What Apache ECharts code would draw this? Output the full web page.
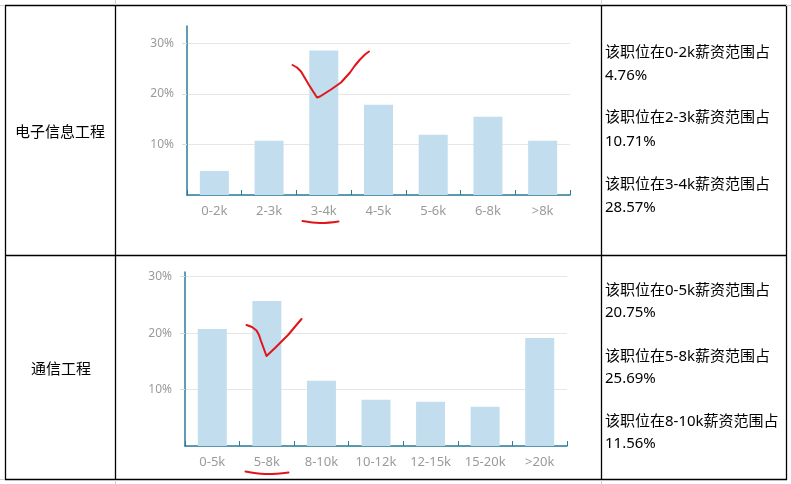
<!DOCTYPE html>
<html>
<head>
<meta charset="utf-8">
<script src="https://cdn.jsdelivr.net/npm/echarts@6/dist/echarts.min.js"></script>
<style>
html,body{margin:0;padding:0;background:#fff;}
#c{width:791px;height:484px;}
</style>
</head>
<body>
<div id="c"></div>
<script>
// ---- data ----
var rowLabels = ['电子信息工程', '通信工程'];
var cats1 = ['0-2k', '2-3k', '3-4k', '4-5k', '5-6k', '6-8k', '>8k'];
var vals1 = [4.76, 10.71, 28.57, 17.86, 11.90, 15.48, 10.71];
var cats2 = ['0-5k', '5-8k', '8-10k', '10-12k', '12-15k', '15-20k', '>20k'];
var vals2 = [20.75, 25.69, 11.56, 8.20, 7.85, 6.95, 19.15];
var notes1 = ['该职位在0-2k薪资范围占', '4.76%', '该职位在2-3k薪资范围占', '10.71%', '该职位在3-4k薪资范围占', '28.57%'];
var notes2 = ['该职位在0-5k薪资范围占', '20.75%', '该职位在5-8k薪资范围占', '25.69%', '该职位在8-10k薪资范围占', '11.56%'];
var yTicks = [0, 10, 20, 30];

var FONT = '"Noto Sans", "Noto Sans CJK SC", sans-serif';
var AXIS = '#2a7c9c';
var BAR = '#c2ddee';

function yAxisCfg(idx, max) {
  return {
    type: 'value', gridIndex: idx, min: 0, max: max, interval: 10,
    axisLine: {show: true, lineStyle: {color: AXIS, width: 1.5}},
    axisTick: {show: true, length: 5, lineStyle: {color: '#dcdcdc'}},
    axisLabel: {
      color: '#9a9a9a', fontSize: 12, fontFamily: FONT, margin: 13,
      showMinLabel: false, showMaxLabel: false,
      formatter: function (v) { return yTicks.indexOf(v) >= 0 ? v + '%' : ''; }
    },
    splitLine: {show: true, showMaxLine: false, lineStyle: {color: '#e6e6e6'}}
  };
}
function xAxisCfg(idx, cats) {
  return {
    type: 'category', gridIndex: idx, data: cats,
    axisLine: {show: true, lineStyle: {color: AXIS, width: 1.5}},
    axisTick: {show: true, inside: true, length: 5, lineStyle: {color: AXIS}},
    axisLabel: {color: '#9a9a9a', fontSize: 13, fontFamily: FONT, margin: 10, interval: 0}
  };
}

var graphics = [];
function line(x1, y1, x2, y2, color, w) {
  graphics.push({type: 'line', silent: true, shape: {x1: x1, y1: y1, x2: x2, y2: y2},
    style: {stroke: color, lineWidth: w}});
}
// table borders
var B = '#000';
line(5, 5.5, 787, 5.5, B, 1.3);
line(5, 255.5, 787, 255.5, B, 1.3);
line(5, 479.5, 787, 479.5, B, 1.3);
line(5.5, 5, 5.5, 480, B, 1.3);
line(115.5, 5, 115.5, 480, B, 1.3);
line(601.5, 5, 601.5, 480, B, 1.3);
line(786.5, 5, 786.5, 480, B, 1.3);
// faint outer guides
var G = '#d0d0d0';
line(115.5, 0, 115.5, 5, G, 1);
line(601.5, 0, 601.5, 5, G, 1);
line(115.5, 480, 115.5, 484, G, 1);
line(601.5, 480, 601.5, 484, G, 1);
line(0, 5.5, 5, 5.5, G, 1);
line(0, 479.5, 5, 479.5, G, 1);
line(786, 5.5, 791, 5.5, G, 1);

// left labels
graphics.push({type: 'text', silent: true, x: 60, y: 131,
  style: {text: rowLabels[0], font: '15px "Noto Sans CJK SC", sans-serif', fill: '#000', align: 'center', verticalAlign: 'middle'}});
graphics.push({type: 'text', silent: true, x: 61, y: 368,
  style: {text: rowLabels[1], font: '15px "Noto Sans CJK SC", sans-serif', fill: '#000', align: 'center', verticalAlign: 'middle'}});

// right notes
var ys1 = [53, 76, 118, 142, 185, 208];
var ys2 = [291, 313, 357, 379, 422, 444];
function notes(arr, ys) {
  for (var i = 0; i < arr.length; i++) {
    graphics.push({type: 'text', silent: true, x: 605, y: ys[i],
      style: {text: arr[i], font: '15px "Noto Sans", "Noto Sans CJK SC", sans-serif', fill: '#000', align: 'left', verticalAlign: 'middle'}});
  }
}
notes(notes1, ys1);
notes(notes2, ys2);

// red hand-drawn annotations
function stroke(pts, sm) {
  graphics.push({type: 'polyline', silent: true, z: 100, shape: {points: pts, smooth: sm},
    style: {stroke: '#e0141a', lineWidth: 2, fill: null, lineCap: 'round', lineJoin: 'round'}});
}
stroke([[292.5, 65], [297, 67.5], [301, 71.5], [309, 85], [317, 97.5], [320, 96.5], [331, 89.5], [341, 82.5], [350, 72.5], [355, 65.5], [360, 59.5], [365, 54.5], [369, 51.5]], 0);
stroke([[302.5, 221], [320, 223], [338.5, 221.5]], 0.4);
stroke([[246.5, 325], [252, 327], [256.5, 330.5], [259, 335], [261, 341], [266.5, 356], [275, 348], [288, 335], [301.5, 319]], 0);
stroke([[245.5, 471.5], [265, 474], [288.5, 472.5]], 0.4);

var option = {
  animation: false,
  backgroundColor: '#fff',
  grid: [
    {left: 187, top: 26, width: 383, height: 169, containLabel: false},
    {left: 185, top: 272, width: 382, height: 174, containLabel: false}
  ],
  xAxis: [xAxisCfg(0, cats1), xAxisCfg(1, cats2)],
  yAxis: [yAxisCfg(0, 33.4), yAxisCfg(1, 30.83)],
  series: [
    {type: 'bar', xAxisIndex: 0, yAxisIndex: 0, data: vals1, barWidth: 29, itemStyle: {color: BAR}},
    {type: 'bar', xAxisIndex: 1, yAxisIndex: 1, data: vals2, barWidth: 29, itemStyle: {color: BAR}}
  ],
  graphic: graphics
};
var chart = echarts.init(document.getElementById('c'), null, {renderer: 'canvas'});
chart.setOption(option);
</script>
</body>
</html>
